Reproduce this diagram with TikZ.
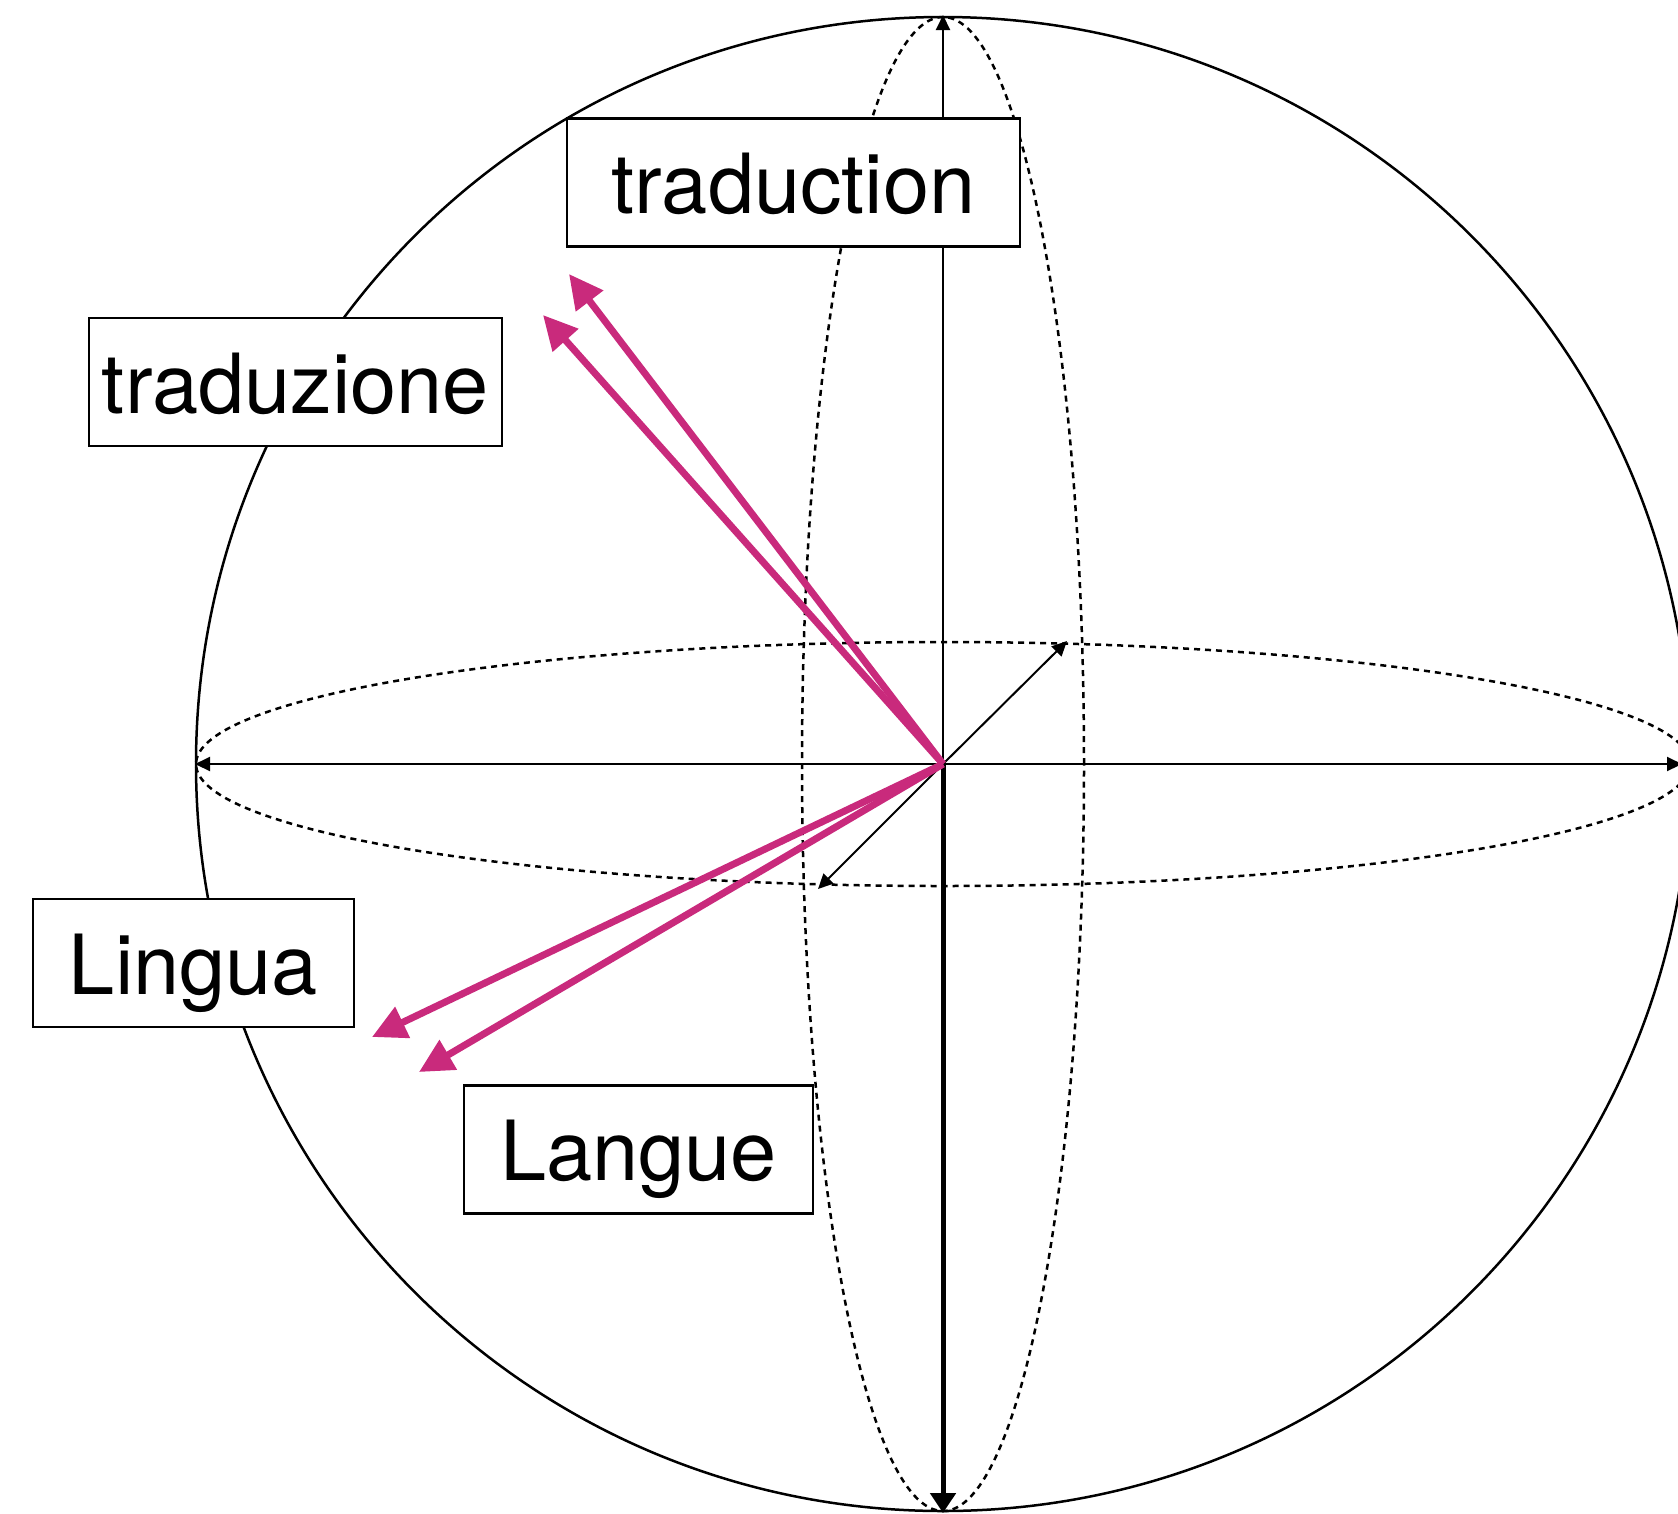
\documentclass[tikz,border=0pt]{standalone}
\usepackage{fontspec}
\setsansfont{TeX Gyre Heros}
\usetikzlibrary{arrows.meta}
\definecolor{vecpink}{RGB}{201,42,124}

\begin{document}
\begin{tikzpicture}[
    x=1pt, y=-1pt,
    word/.style={rectangle, draw=black, fill=white, line width=2.5pt,
        font=\sffamily\fontsize{83}{99}\selectfont, minimum height=128pt,
        text height=72pt, text depth=10pt, inner sep=0pt},
    sphere/.style={draw=black, line width=2.5pt},
    guide/.style={draw=black, line width=2.5pt, dash pattern=on 6pt off 5pt},
    axis/.style={-{Triangle[length=15pt, width=14pt]}, draw=black, line width=2pt},
    axisbold/.style={-{Triangle[length=20pt, width=25pt]}, draw=black, line width=5pt},
    vec/.style={-{Triangle[length=34pt, width=33pt]}, draw=vecpink, line width=7pt}
]
    \useasboundingbox (0,0) rectangle (1678,1513);

    % sphere and its two great circles
    \coordinate (o) at (943,764);
    \draw[sphere] (o) circle[radius=747pt];
    \draw[guide] (o) ellipse[x radius=747pt, y radius=122pt];
    \draw[guide] (o) ellipse[x radius=141pt, y radius=747pt];

    % axes
    \coordinate (north) at (943,15);
    \coordinate (south) at (943,1513);
    \coordinate (west) at (195,764);
    \coordinate (east) at (1682,764);
    \coordinate (back) at (1067,641);
    \coordinate (front) at (818,889);
    \draw[axis] (o) -- (north);
    \draw[axisbold] (o) -- (south);
    \draw[axis] (o) -- (west);
    \draw[axis] (o) -- (east);
    \draw[axis] (o) -- (back);
    \draw[axis] (o) -- (front);

    % words
    \node[word, minimum width=453pt] (fr) at (793.5,182.5) {traduction};
    \node[word, minimum width=413pt] (it) at (295.5,382) {traduzione};
    \node[word, minimum width=321pt] (itlang) at (193.5,963) {Lingua};
    \node[word, minimum width=349pt] (frlang) at (638.5,1149.5) {Langue};

    % word vectors
    \coordinate (frtip) at (569,274);
    \coordinate (ittip) at (543,315);
    \coordinate (itlangtip) at (372,1037);
    \coordinate (frlangtip) at (419,1072);
    \draw[vec] (o) -- (frtip);
    \draw[vec] (o) -- (ittip);
    \draw[vec] (o) -- (itlangtip);
    \draw[vec] (o) -- (frlangtip);
\end{tikzpicture}
\end{document}
